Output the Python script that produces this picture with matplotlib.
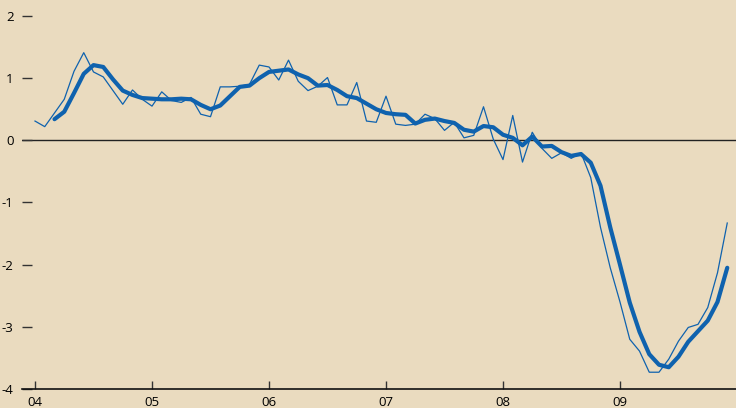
import numpy as np
import matplotlib.pyplot as plt

# Monatswerte Jan 2004 - Dez 2009 (dünne Linie)
monthly = [
    0.31, 0.22, 0.44, 0.66, 1.11, 1.41, 1.10, 1.02, 0.80, 0.58, 0.81, 0.66,
    0.55, 0.78, 0.64, 0.61, 0.69, 0.42, 0.38, 0.86, 0.86, 0.87, 0.90, 1.21,
    1.18, 0.97, 1.29, 0.95, 0.80, 0.87, 1.01, 0.57, 0.57, 0.93, 0.31, 0.29,
    0.71, 0.26, 0.24, 0.26, 0.42, 0.35, 0.16, 0.29, 0.04, 0.08, 0.54, 0.02,
    -0.31, 0.40, -0.35, 0.13, -0.13, -0.29, -0.20, -0.29, -0.20, -0.60, -1.40, -2.05,
    -2.60, -3.20, -3.39, -3.73, -3.73, -3.52, -3.23, -3.01, -2.96, -2.69, -2.13, -1.33,
]

# 3-Monats-Durchschnitt, ab März 2004 (dicke Linie)
avg3 = [
    0.34, 0.46, 0.76, 1.07, 1.21, 1.18, 0.98, 0.80, 0.73, 0.68,
    0.67, 0.66, 0.66, 0.67, 0.66, 0.57, 0.50, 0.56, 0.71, 0.86, 0.88, 1.00,
    1.10, 1.12, 1.14, 1.06, 1.00, 0.88, 0.89, 0.81, 0.71, 0.68, 0.59, 0.50,
    0.44, 0.42, 0.41, 0.27, 0.33, 0.35, 0.31, 0.28, 0.17, 0.14, 0.23, 0.21,
    0.09, 0.04, -0.08, 0.06, -0.10, -0.09, -0.19, -0.25, -0.22, -0.36, -0.73, -1.40,
    -2.00, -2.61, -3.08, -3.44, -3.61, -3.65, -3.48, -3.24, -3.07, -2.90, -2.60, -2.05,
]

year_labels = ['04', '05', '06', '07', '08', '09']
years = [2004, 2005, 2006, 2007, 2008, 2009]

t_monthly = 2004 + np.arange(len(monthly)) / 12
t_avg = 2004 + (np.arange(len(avg3)) + 2) / 12

blue = '#0F62AE'
bg = '#EADBBF'

plt.rcParams['font.family'] = ['Open Sans', 'DejaVu Sans']

fig = plt.figure(figsize=(7.36, 4.08), dpi=100, facecolor=bg)
ax = fig.add_axes([22 / 736, 19 / 408, 1 - 22 / 736, 1 - 19 / 408])
ax.set_facecolor(bg)

ax.axhline(0, color='#222222', lw=1.0, zorder=1)
ax.plot(t_monthly, monthly, color=blue, lw=0.9, zorder=2)
ax.plot(t_avg, avg3, color=blue, lw=3.0, solid_capstyle='round', zorder=3)

ax.set_xlim(2004 - 13 / 117, 2004 + 701 / 117)
ax.set_ylim(-4, 2 + 16 / 62.2)

for s in ['top', 'right', 'left']:
    ax.spines[s].set_visible(False)
ax.spines['bottom'].set_color('#111111')
ax.spines['bottom'].set_linewidth(1.2)

ax.set_xticks(years)
ax.set_xticklabels(year_labels)
ax.set_yticks([-4, -3, -2, -1, 0, 1, 2])
ax.set_yticklabels(['-4', '-3', '-2', '-1', '0', '1', '2'])
ax.tick_params(axis='x', direction='in', length=6, width=1.0, color='#333333',
               labelsize=9.5, pad=5)
ax.tick_params(axis='y', direction='in', length=7, width=1.0, color='#333333',
               labelsize=9.5, pad=6)

fig.savefig('out.png', dpi=100, facecolor=bg)
